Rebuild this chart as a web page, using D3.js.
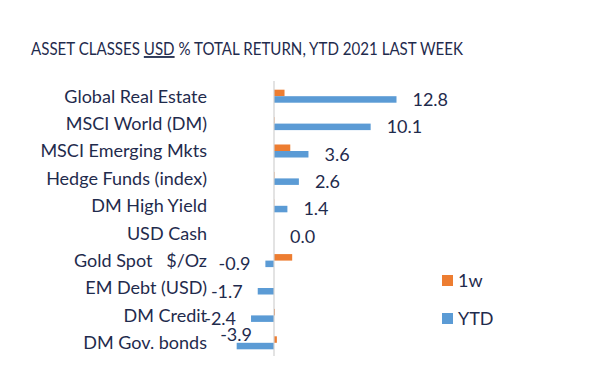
<!DOCTYPE html>
<html>
<head>
<meta charset="utf-8">
<style>
  body { margin: 0; background: #fff; }
  text { font-family: Lato, "Noto Sans", sans-serif; fill: #1f2b4d; white-space: pre; }
</style>
</head>
<body>
<div id="chart"></div>
<script src="https://cdn.jsdelivr.net/npm/d3@7"></script>
<script>
// categories top to bottom
var categories = ["Global Real Estate", "MSCI World (DM)", "MSCI Emerging Mkts", "Hedge Funds (index)",
  "DM High Yield", "USD Cash", "Gold Spot   $/Oz", "EM Debt (USD)", "DM Credit", "DM Gov. bonds"];
var ytd = [12.8, 10.1, 3.6, 2.6, 1.4, 0.0, -0.9, -1.7, -2.4, -3.9];
var week = [1.1, 0.05, 1.7, 0.05, 0.03, 0.0, 1.9, 0.0, 0.1, 0.3];
var seriesNames = ["1w", "YTD"];
var colors = {"1w": "#ed7d31", "YTD": "#5b9bd5"};

var width = 591, height = 376;
var fs = "18px";

var svg = d3.select("#chart").append("svg")
    .attr("width", width)
    .attr("height", height);

// title (condensed to the width of the original)
var titleG = svg.append("g");
var title = titleG.append("text")
    .attr("x", 0)
    .attr("y", 0)
    .style("font-size", "18px");
title.append("tspan").text("ASSET CLASSES ");
title.append("tspan").text("USD").style("text-decoration", "underline");
title.append("tspan").text(" % TOTAL RETURN, YTD 2021 LAST WEEK");
var tw = title.node().getComputedTextLength();
titleG.attr("transform", "translate(31,55) scale(" + (432 / tw) + ",1)");

// scales
var y = d3.scaleBand()
    .domain(categories)
    .range([82.5, 356.5])
    .paddingInner(0.525)
    .paddingOuter(0.2625);

var inner = d3.scaleBand()
    .domain(seriesNames)
    .range([0, y.bandwidth()]);

var x = d3.scaleLinear()
    .domain([-5, 15])
    .range([274 - 5 * 9.57, 274 + 15 * 9.57]);

var rows = categories.map(function(c, i) {
  return {cat: c, "1w": week[i], YTD: ytd[i]};
});

// bars
var groups = svg.selectAll(".grp")
    .data(rows)
  .enter().append("g")
    .attr("class", "grp")
    .attr("transform", function(d) { return "translate(0," + y(d.cat) + ")"; });

groups.selectAll("rect")
    .data(function(d) { return seriesNames.map(function(s) { return {s: s, v: d[s]}; }); })
  .enter().append("rect")
    .attr("x", function(d) { return x(Math.min(0, d.v)); })
    .attr("y", function(d) { return inner(d.s); })
    .attr("width", function(d) { return Math.abs(x(d.v) - x(0)); })
    .attr("height", inner.bandwidth())
    .attr("fill", function(d) { return colors[d.s]; });

// zero axis
svg.append("line")
    .attr("x1", x(0)).attr("x2", x(0))
    .attr("y1", 81).attr("y2", 356)
    .attr("stroke", "#d0d0d0")
    .attr("stroke-width", 1.2);

// category labels
svg.selectAll(".cat")
    .data(categories)
  .enter().append("text")
    .attr("class", "cat")
    .attr("x", 207)
    .attr("y", function(d) { return y(d) + y.bandwidth() / 2; })
    .attr("dy", "0.35em")
    .attr("text-anchor", "end")
    .style("font-size", fs)
    .text(function(d) { return d; });

// YTD value labels
svg.selectAll(".val")
    .data(rows)
  .enter().append("text")
    .attr("class", "val")
    .style("font-size", fs)
    .each(function(d) {
      var t = d3.select(this);
      var cy = y(d.cat) + inner("YTD") + inner.bandwidth() / 2;
      t.text(d.YTD.toFixed(1));
      if (d.YTD >= 0) {
        t.attr("x", x(d.YTD) + 16).attr("y", cy).attr("dy", "0.35em").attr("text-anchor", "start");
      } else {
        var w = this.getComputedTextLength();
        var xr = x(d.YTD) - 15;
        if (xr - w < 198) {
          // no room next to the bar: lift the label above it
          t.attr("x", x(0) - 22).attr("y", cy - 11).attr("dy", "0.35em").attr("text-anchor", "end");
        } else {
          t.attr("x", xr).attr("y", cy).attr("dy", "0.35em").attr("text-anchor", "end");
        }
      }
    });

// legend
var legend = svg.selectAll(".leg")
    .data(seriesNames)
  .enter().append("g")
    .attr("class", "leg")
    .attr("transform", function(d, i) { return "translate(442," + (275 + i * 38) + ")"; });

legend.append("rect")
    .attr("width", 11)
    .attr("height", 11)
    .attr("fill", function(d) { return colors[d]; });

legend.append("text")
    .attr("x", 16)
    .attr("y", 5.5)
    .attr("dy", "0.35em")
    .style("font-size", fs)
    .text(function(d) { return d; });
</script>
</body>
</html>
